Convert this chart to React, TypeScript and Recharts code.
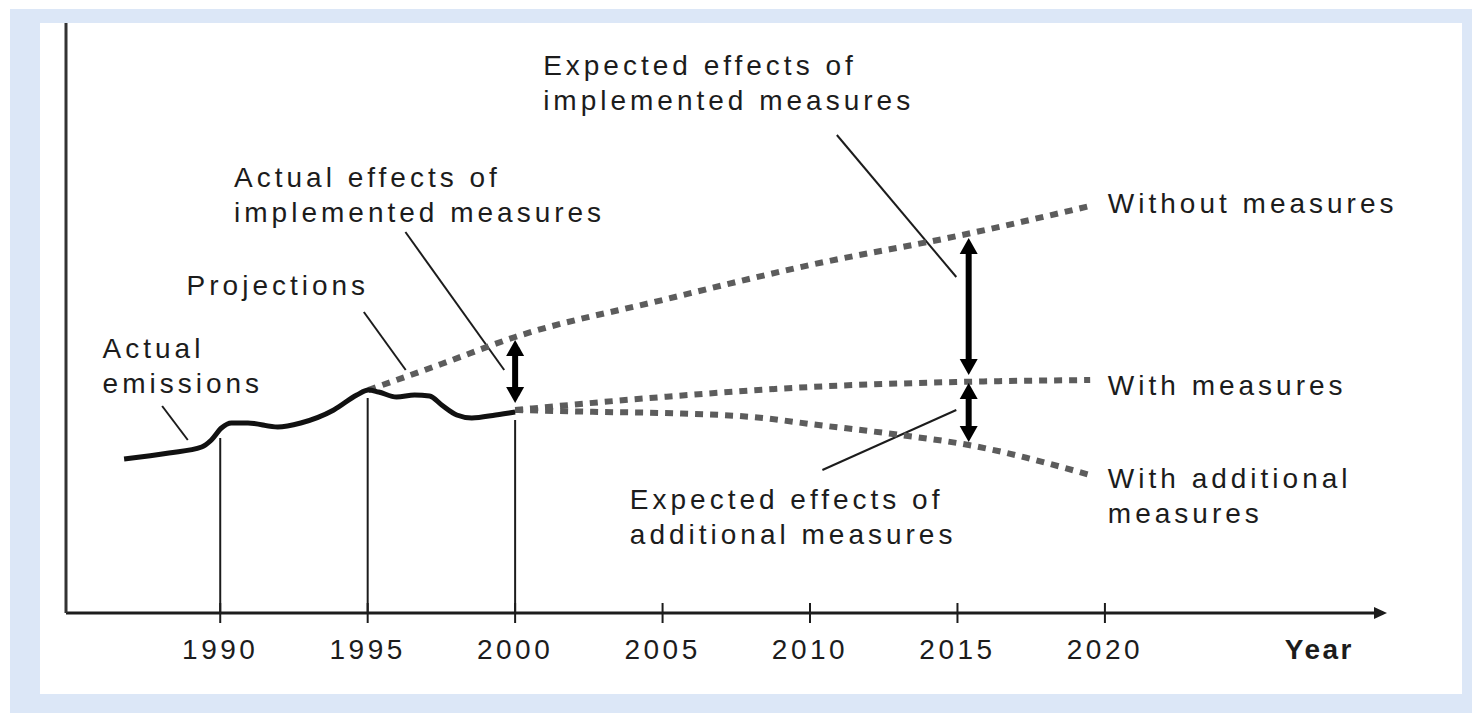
import React from "react";
import {
  LineChart,
  Line,
  XAxis,
  YAxis,
  ReferenceLine,
  ReferenceDot,
} from "recharts";

// tick years on the time axis
const tickYears = [1990, 1995, 2000, 2005, 2010, 2015, 2020];

// actual emissions (arbitrary emission index)
const actualYears = [
  1986.74, 1988.26, 1989.37, 1989.7, 1990.04, 1990.38, 1990.94, 1991.95,
  1992.73, 1993.85, 1994.63, 1995.02, 1995.37, 1995.98, 1996.59, 1997.1,
  1997.51, 1998.02, 1998.53, 1999.34, 2000,
];
const actualValues = [
  154, 160, 166, 173, 185, 190, 190, 186, 190, 203, 218, 223, 221, 216, 218,
  217, 208, 198, 195, 198, 201,
];

// projections
const withoutYears = [1995.02, 1997.5, 2000, 2005, 2010, 2015, 2019.5];
const withoutValues = [223, 249, 276, 313, 348, 377, 407];

const withYears = [2000, 2005, 2010, 2015, 2019.5];
const withValues = [203, 216, 226, 231, 233];

const additionalYears = [2000, 2003, 2005, 2008.4, 2010, 2013.07, 2015.38, 2019.5];
const additionalValues = [203, 201, 200, 195, 189, 178, 168, 138];

// double arrows: [year, from, to]
const effectArrows: [number, number, number][] = [
  [2000, 210, 273],
  [2015.38, 238, 375],
  [2015.38, 171, 230],
];

// thin leader lines: [year1, value1, year2, value2]
const leaderLines: [number, number, number, number][] = [
  [1988.03, 207, 1988.9, 173],
  [1994.87, 301, 1996.29, 243],
  [1996.28, 381, 1999.63, 243],
  [2010.91, 478, 2014.96, 336],
  [2010.42, 143, 2014.96, 203],
];

// vertical guides from the axis up to the curve: [year, top value]
const guideLines: [number, number][] = [
  [1990, 175],
  [1995, 215],
  [2000, 193],
];

// text annotations: year, value (baseline of first line), lines
const annotations: { year: number; value: number; lines: string[]; bold?: boolean }[] = [
  { year: 2000.95, value: 538, lines: ["Expected effects of", "implemented measures"] },
  { year: 1990.47, value: 426, lines: ["Actual effects of", "implemented measures"] },
  { year: 1988.86, value: 318, lines: ["Projections"] },
  { year: 1986.01, value: 255, lines: ["Actual", "emissions"] },
  { year: 2020.1, value: 400, lines: ["Without measures"] },
  { year: 2020.1, value: 218, lines: ["With measures"] },
  { year: 2020.1, value: 125, lines: ["With additional", "measures"] },
  { year: 2003.89, value: 104, lines: ["Expected effects of", "additional measures"] },
  { year: 2026.1, value: -46, lines: ["Year"], bold: true },
];

const X_DOMAIN: [number, number] = [1984.77, 2029.43];
const Y_DOMAIN: [number, number] = [0, 590];

const FONT = "'Liberation Sans', Arial, sans-serif";
const INK = "#1c1c1c";
const DASH_GRAY = "#5c5c5c";

const zip = (xs: number[], ys: number[]) => xs.map((year, i) => ({ year, value: ys[i] }));

const actualData = zip(actualYears, actualValues);
const withoutData = zip(withoutYears, withoutValues);
const withData = zip(withYears, withValues);
const additionalData = zip(additionalYears, additionalValues);

function YearTick(props: any) {
  const { x, y, payload } = props;
  return (
    <g>
      <line x1={x} x2={x} y1={y - 10} y2={y + 10} stroke={INK} strokeWidth={2} />
      <text
        x={x}
        y={y + 46}
        textAnchor="middle"
        fontFamily={FONT}
        fontSize={28}
        letterSpacing={3.5}
        fill={INK}
      >
        {payload.value}
      </text>
    </g>
  );
}

function DoubleArrow(props: any) {
  const { x1, y1, x2, y2 } = props;
  const dx = x2 - x1;
  const dy = y2 - y1;
  const len = Math.hypot(dx, dy) || 1;
  const ux = dx / len;
  const uy = dy / len;
  const head = 16;
  const half = 9;
  const px = -uy;
  const py = ux;
  const headPts = (tx: number, ty: number, dirx: number, diry: number) => {
    const bx = tx - dirx * head;
    const by = ty - diry * head;
    return `${tx},${ty} ${bx + px * half},${by + py * half} ${bx - px * half},${by - py * half}`;
  };
  return (
    <g>
      <line
        x1={x1 + ux * head * 0.7}
        y1={y1 + uy * head * 0.7}
        x2={x2 - ux * head * 0.7}
        y2={y2 - uy * head * 0.7}
        stroke="#000"
        strokeWidth={6}
      />
      <polygon points={headPts(x2, y2, ux, uy)} fill="#000" />
      <polygon points={headPts(x1, y1, -ux, -uy)} fill="#000" />
    </g>
  );
}

function AxisArrowHead(props: any) {
  const { cx, cy } = props;
  return (
    <polygon
      points={`${cx + 4},${cy} ${cx - 9},${cy - 6} ${cx - 9},${cy + 6}`}
      fill={INK}
    />
  );
}

function makeLabel(lines: string[], bold?: boolean) {
  return function LabelShape(props: any) {
    const { cx, cy } = props;
    return (
      <text
        x={cx}
        y={cy}
        fontFamily={FONT}
        fontSize={28}
        fontWeight={bold ? "bold" : "normal"}
        letterSpacing={bold ? 2.5 : 4}
        fill={INK}
      >
        {lines.map((l, i) => (
          <tspan key={i} x={cx} dy={i === 0 ? 0 : 35}>
            {l}
          </tspan>
        ))}
      </text>
    );
  };
}

export default function App() {
  return (
    <div
      style={{
        position: "fixed",
        left: 10,
        top: 9,
        width: 1462,
        height: 704,
        background: "#dce7f7",
      }}
    >
      <div
        style={{
          position: "absolute",
          left: 30,
          top: 14,
          width: 1422,
          height: 671,
          background: "#fff",
        }}
      >
        <LineChart
          width={1422}
          height={671}
          margin={{ top: 0, right: 79, bottom: 0, left: 0 }}
        >
          <XAxis
            type="number"
            dataKey="year"
            domain={X_DOMAIN}
            allowDataOverflow
            ticks={tickYears}
            interval={0}
            height={81}
            tickLine={false}
            tickSize={0}
            tickMargin={0}
            tick={<YearTick />}
            axisLine={{ stroke: INK, strokeWidth: 3 }}
          />
          <YAxis
            type="number"
            dataKey="value"
            domain={Y_DOMAIN}
            allowDataOverflow
            width={26}
            tick={false}
            tickLine={false}
            axisLine={{ stroke: "#333", strokeWidth: 3 }}
          />

          {guideLines.map(([yr, top], i) => (
            <ReferenceLine
              key={`g${i}`}
              segment={[
                { x: yr, y: 0 },
                { x: yr, y: top },
              ]}
              stroke={INK}
              strokeWidth={2}
              ifOverflow="visible"
            />
          ))}

          {leaderLines.map(([xa, ya, xb, yb], i) => (
            <ReferenceLine
              key={`l${i}`}
              segment={[
                { x: xa, y: ya },
                { x: xb, y: yb },
              ]}
              stroke={INK}
              strokeWidth={2}
              ifOverflow="visible"
            />
          ))}

          <Line
            data={withoutData}
            dataKey="value"
            type="monotone"
            stroke={DASH_GRAY}
            strokeWidth={6}
            strokeDasharray="8 7"
            dot={false}
            isAnimationActive={false}
          />
          <Line
            data={withData}
            dataKey="value"
            type="monotone"
            stroke={DASH_GRAY}
            strokeWidth={6}
            strokeDasharray="8 7"
            dot={false}
            isAnimationActive={false}
          />
          <Line
            data={additionalData}
            dataKey="value"
            type="monotone"
            stroke={DASH_GRAY}
            strokeWidth={6}
            strokeDasharray="8 7"
            dot={false}
            isAnimationActive={false}
          />
          <Line
            data={actualData}
            dataKey="value"
            type="monotone"
            stroke="#111"
            strokeWidth={5}
            dot={false}
            isAnimationActive={false}
          />

          {effectArrows.map(([yr, from, to], i) => (
            <ReferenceLine
              key={`a${i}`}
              segment={[
                { x: yr, y: from },
                { x: yr, y: to },
              ]}
              ifOverflow="visible"
              shape={DoubleArrow}
            />
          ))}

          <ReferenceDot
            x={X_DOMAIN[1]}
            y={0}
            ifOverflow="visible"
            shape={AxisArrowHead}
          />

          {annotations.map((a, i) => (
            <ReferenceDot
              key={`t${i}`}
              x={a.year}
              y={a.value}
              ifOverflow="visible"
              shape={makeLabel(a.lines, a.bold)}
            />
          ))}
        </LineChart>
      </div>
    </div>
  );
}
